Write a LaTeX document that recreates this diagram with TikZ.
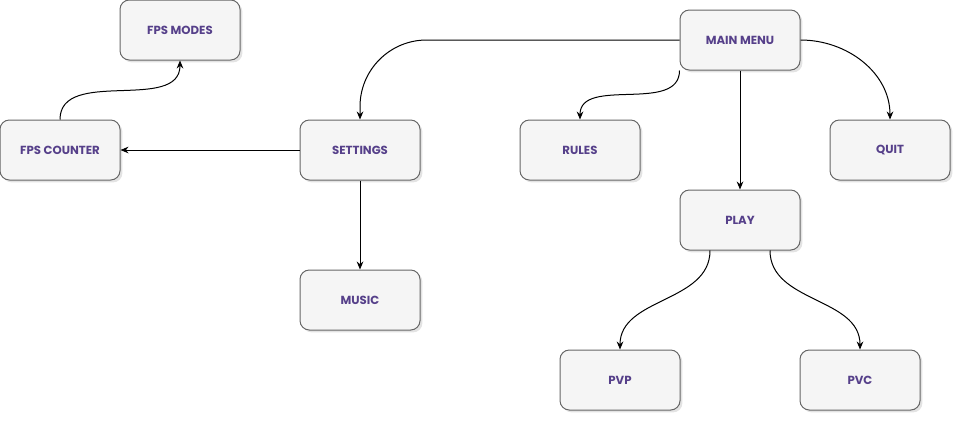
\documentclass[tikz,border=0pt]{standalone}
\usepackage{fontspec}
\setmainfont{Poppins}
\usetikzlibrary{shadows,arrows.meta}
\definecolor{boxfill}{HTML}{F5F5F5}
\definecolor{boxline}{HTML}{666666}
\definecolor{menutext}{HTML}{56408A}
\tikzset{
  menubox/.style={draw=boxline, fill=boxfill, rounded corners=7pt, line width=0.75pt,
    minimum width=90pt, minimum height=45pt, text=menutext,
    font=\fontsize{8.8}{10}\selectfont\bfseries,
    drop shadow={opacity=0.22, shadow xshift=1.8pt, shadow yshift=-1.8pt}},
  link/.style={-{Stealth[length=6pt,width=5pt]}, line width=0.75pt}
}
\begin{document}
\begin{tikzpicture}[x=0.75pt,y=-0.75pt]
    \useasboundingbox (0,0) rectangle (962,422);
    \foreach \name/\x/\y/\txt in {modes/180/30/FPS MODES, mm/740/40/MAIN MENU,
        counter/60/150/FPS COUNTER, set/360/150/SETTINGS, rules/580/150/RULES,
        quit/890/150/QUIT, play/740/220/PLAY, music/360/300/MUSIC,
        pvp/620/380/PVP, pvc/860/380/PVC}
       \node[menubox] (\name) at (\x,\y) {\txt};
    \draw[link, rounded corners=50pt] (mm.west) -| (set.north);
    \draw[link] (mm.south west) to[out=-90,in=90] (rules.north);
    \draw[link] (mm.south) -- (play.north);
    \draw[link] (mm.east) to[out=0,in=90] (quit.north);
    \draw[link] (set.west) -- (counter.east);
    \draw[link] (set.south) -- (music.north);
    \draw[link] (counter.north) to[out=90,in=-90] (modes.south);
    \draw[link] ([xshift=-22.5pt]play.south) to[out=-90,in=90] (pvp.north);
    \draw[link] ([xshift=22.5pt]play.south) to[out=-90,in=90] (pvc.north);
\end{tikzpicture}
\end{document}
